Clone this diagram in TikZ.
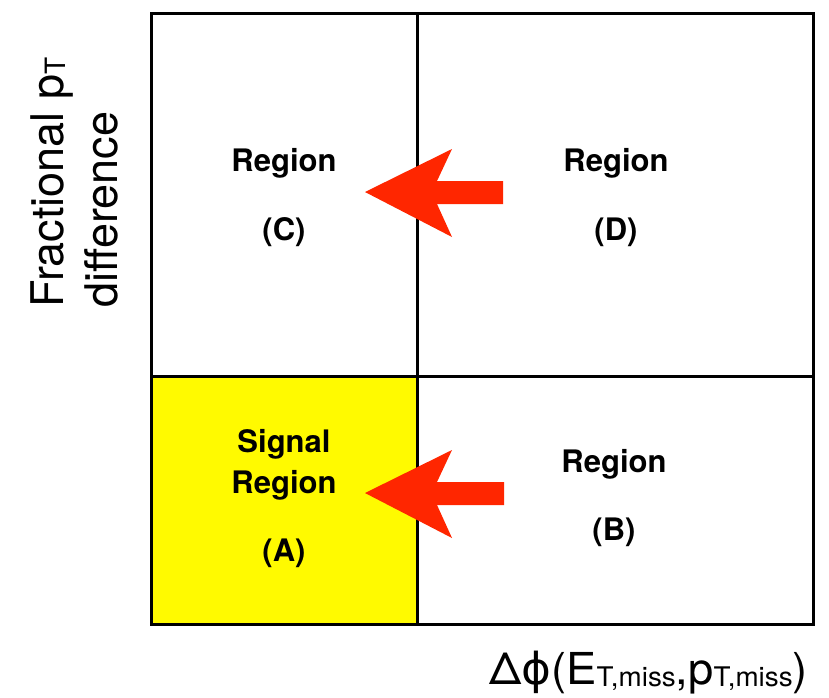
\documentclass[tikz,border=0pt]{standalone}
\usepackage{fontspec}
\setmainfont{TeX Gyre Heros}
\newfontfamily\phifont{DejaVu Sans}
\definecolor{arrowred}{RGB}{255,38,0}
\definecolor{sigyellow}{RGB}{255,250,0}
\newcommand\lowsub[2]{\raisebox{-0.06em}{\fontsize{#1}{#1}\selectfont #2}}
\tikzset{
  grid/.style={line width=3pt, draw=black},
  lbl/.style={font=\fontsize{31pt}{31pt}\selectfont\bfseries, inner sep=0pt, text height=0.72em, text depth=0pt, anchor=center},
  axlab/.style={font=\fontsize{44pt}{44pt}\selectfont, inner sep=0pt},
  yaxlab/.style={font=\fontsize{45pt}{45pt}\selectfont, inner sep=0pt},
  bigarrow/.style={fill=arrowred, draw=none}
}
\begin{document}
\begin{tikzpicture}[x=1pt,y=-1pt]
\useasboundingbox (0,0) rectangle (829,697);
% corners of the grid
\coordinate (tl) at (151,13);
\coordinate (br) at (813,624);
\coordinate (tm) at (417,13);
\coordinate (bm) at (417,624);
\coordinate (ml) at (151,376);
\coordinate (mr) at (813,376);
% signal region fill
\fill[sigyellow] (ml) rectangle (bm);
% grid lines
\draw[grid] (tl) rectangle (br);
\draw[grid] (tm) -- (bm);
\draw[grid] (ml) -- (mr);
% region labels
\node[lbl] (cR) at (284,168) {Region};
\node[lbl] (cL) at (284,237) {(C)};
\node[lbl] (dR) at (616,168) {Region};
\node[lbl] (dL) at (616,237) {(D)};
\node[lbl] (aS) at (284,449) {Signal};
\node[lbl] (aR) at (284,490) {Region};
\node[lbl] (aL) at (284,558) {(A)};
\node[lbl] (bR) at (614,469) {Region};
\node[lbl] (bL) at (614,537) {(B)};
% block arrows
\fill[bigarrow] (365,192) -- (452,149) -- (437,181) -- (503,181) -- (503,204) -- (437,204) -- (452,237) -- cycle;
\fill[bigarrow] (365,493) -- (452,450) -- (437,482) -- (504,482) -- (504,505) -- (437,505) -- (452,538) -- cycle;
% axis labels
\node[yaxlab, rotate=90, anchor=base west] (yl1) at (63,308) {Fractional p\lowsub{28pt}{T}};
\node[yaxlab, rotate=90, anchor=base west] (yl2) at (117,308) {difference};
\node[axlab, anchor=base east] (xl) at (808,684) {\scalebox{1.03}[1]{Δ{\phifont ϕ}(E\lowsub{27pt}{T,miss},p\lowsub{27pt}{T,miss})}};
\end{tikzpicture}
\end{document}
